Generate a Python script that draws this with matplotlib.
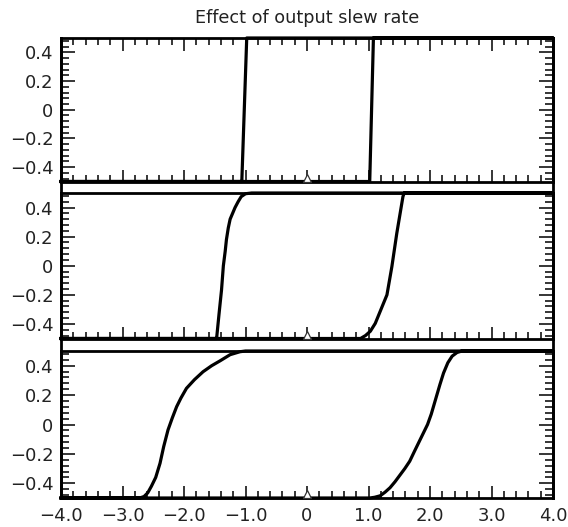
import numpy as np
import matplotlib
matplotlib.use('Agg')
import matplotlib.pyplot as plt
from matplotlib.lines import Line2D
from matplotlib.transforms import offset_copy

# hysteresis loops (x = input, y = output)
x_fast = [-4.0, 1.02, 1.08, 4.0, 4.0, -0.98, -1.06, -4.0]
y_fast = [-0.5, -0.5, 0.5, 0.5, 0.5, 0.5, -0.5, -0.5]

x_mid = [-4.0, 0.87, 0.95, 1.03, 1.11, 1.30, 1.38, 1.46, 1.56, 1.58, 4.0,
         4.0, -0.90, -1.00, -1.07, -1.12, -1.17, -1.21, -1.25, -1.28, -1.31, -1.33, -1.36, -1.39, -1.43, -1.47, -4.0]
y_mid = [-0.5, -0.5, -0.48, -0.45, -0.396, -0.20, -0.006, 0.223, 0.475, 0.5, 0.5,
         0.5, 0.5, 0.495, 0.475, 0.44, 0.40, 0.36, 0.32, 0.26, 0.18, 0.10, 0.0, -0.167, -0.33, -0.5, -0.5]

x_slow = [-4.0, 1.02, 1.10, 1.19, 1.27, 1.35, 1.43, 1.51, 1.59, 1.67, 1.75, 1.82, 1.89, 1.96, 2.02,
          2.09, 2.16, 2.22, 2.29, 2.36, 2.44, 2.52, 4.0,
          4.0, -1.00, -1.09, -1.25, -1.41, -1.55, -1.69, -1.83, -1.96, -2.05, -2.12, -2.19, -2.26,
          -2.33, -2.39, -2.46, -2.53, -2.59, -2.65, -2.72, -4.0]
y_slow = [-0.5, -0.5, -0.495, -0.485, -0.46, -0.43, -0.39, -0.345, -0.30, -0.25, -0.18, -0.12, -0.06, 0.0, 0.07,
          0.17, 0.27, 0.35, 0.42, 0.465, 0.49, 0.5, 0.5,
          0.5, 0.5, 0.495, 0.475, 0.434, 0.40, 0.359, 0.305, 0.246, 0.18, 0.121, 0.045, -0.037,
          -0.15, -0.264, -0.36, -0.42, -0.465, -0.49, -0.5, -0.5]

loops = [(x_fast, y_fast), (x_mid, y_mid), (x_slow, y_slow)]

marker_x = [0.0]
marker_y = [-0.5]

xtick_vals = [-4, -3, -2, -1, 0, 1, 2, 3, 4]
xtick_labels = ['\u22124.0', '\u22123.0', '\u22122.0', '\u22121.0', '0', '1.0', '2.0', '3.0', '4.0']
xminor_vals = np.arange(-40, 41, 2) / 10
ytick_vals = [-0.4, -0.2, 0, 0.2, 0.4]
ytick_labels = ['\u22120.4', '\u22120.2', '0', '0.2', '0.4']
yminor_vals = np.arange(-12, 13) / 25

W, H = 568, 527
fig = plt.figure(figsize=(W / 100, H / 100), dpi=100)

left = 61 / W
width = (553 - 61) / W
# panel (top, bottom) pixel rows
rows = [(38, 181.5), (193, 338.5), (351, 498)]

for i, ((top, bot), (xs, ys)) in enumerate(zip(rows, loops)):
    ax = fig.add_axes([left, 1 - bot / H, width, (bot - top) / H])
    ax.patch.set_visible(False)
    ax.set_axisbelow(False)
    ax.plot(xs, ys, color='black', lw=2.3, clip_on=False)
    tr = offset_copy(ax.transData, fig=fig, x=0, y=2.6, units='points')
    ax.plot(marker_x, marker_y, '^', ms=6, mfc='white', mec='#333333', mew=0.9,
            transform=tr, clip_on=False, zorder=5)
    ax.set_xlim(-4, 4)
    ax.set_ylim(-0.5, 0.5)
    for s in ax.spines.values():
        s.set_linewidth(2.0)

    ax.set_xticks(xtick_vals)
    ax.set_xticks(xminor_vals, minor=True)
    ax.set_yticks(ytick_vals)
    ax.set_yticklabels(ytick_labels)
    ax.set_yticks(yminor_vals, minor=True)

    ax.tick_params(axis='both', which='both', direction='in', color='black', width=1.1)
    ax.tick_params(axis='x', which='major', length=9)
    ax.tick_params(axis='x', which='minor', length=5)
    ax.tick_params(axis='x', which='both', top=(i == 0), bottom=True)
    ax.tick_params(axis='y', which='major', length=10)
    ax.tick_params(axis='y', which='minor', length=6)
    ax.tick_params(axis='y', which='both', left=True, right=True)
    ax.tick_params(axis='y', labelsize=13, pad=5.5, labelcolor='#222222')
    if i == 2:
        ax.set_xticklabels(xtick_labels)
        ax.tick_params(axis='x', labelsize=13, pad=6.5, labelcolor='#222222')
    else:
        ax.tick_params(axis='x', labelbottom=False)
    ax.xaxis.set_zorder(4)

# left/right frame lines continue through the gaps between panels
for fx in [left, left + width]:
    fig.add_artist(Line2D([fx, fx], [1 - 498 / H, 1 - 38 / H], transform=fig.transFigure,
                          color='black', lw=2.0))

fig.text(left + width / 2, 1 - 18 / H, 'Effect of output slew rate',
         ha='center', va='center', fontsize=12.7, color='#222222')

fig.savefig('out.png', dpi=100)
